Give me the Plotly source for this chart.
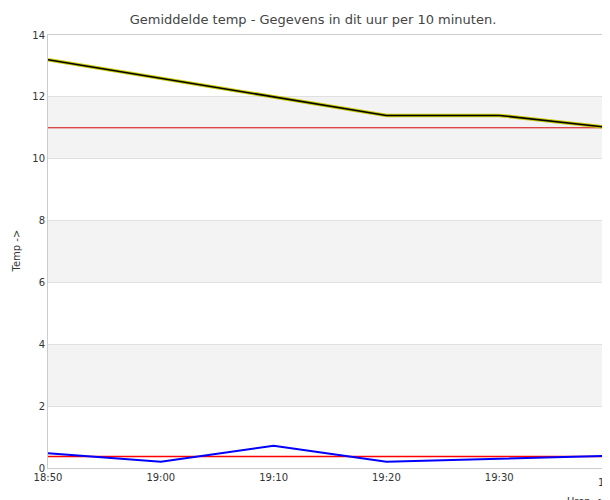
import plotly.graph_objects as go

labels = ["18:50", "19:00", "19:10", "19:20", "19:30", "19:40"]
temp = [13.2, 12.6, 12.0, 11.4, 11.4, 11.0]
blue = [0.48, 0.2, 0.72, 0.2, 0.3, 0.4]
red = [0.37] * 6
ref = [11.0] * 6
x = list(range(len(labels)))

fig = go.Figure()
for y0 in [2, 6, 10]:
    fig.add_hrect(y0=y0, y1=y0 + 2, fillcolor="#f3f3f3", line_width=0, layer="below")
fig.add_trace(go.Scatter(x=x, y=ref, mode="lines", line=dict(color="#d00000", width=1)))
fig.add_trace(go.Scatter(x=x, y=red, mode="lines", line=dict(color="red", width=1.5)))
fig.add_trace(go.Scatter(x=x, y=blue, mode="lines", line=dict(color="blue", width=2)))
fig.add_trace(go.Scatter(x=x, y=temp, mode="lines", line=dict(color="#c8c800", width=3.5)))
fig.add_trace(go.Scatter(x=x, y=temp, mode="lines", line=dict(color="black", width=1.5)))

fig.update_layout(
    width=610, height=500, showlegend=False,
    plot_bgcolor="white", paper_bgcolor="white",
    margin=dict(l=40, r=6, t=27, b=40, autoexpand=False),
    font=dict(family="DejaVu Sans", size=10, color="#333"),
    title=dict(text="Gemiddelde temp - Gegevens in dit uur per 10 minuten.", x=0.5, y=0.978,
               xanchor="center", yanchor="middle", font=dict(size=13, color="#444")),
    xaxis=dict(range=[0, 5], tickvals=x[:-1], ticktext=labels[:-1], showgrid=False, zeroline=False,
               showline=True, linecolor="#ccc", mirror=True, ticks="", automargin=False),
    yaxis=dict(range=[0, 14], dtick=2, gridcolor="#e0e0e0", zeroline=False,
               showline=True, linecolor="#ccc", mirror=True, automargin=False, ticks=""),
)
fig.add_annotation(text=labels[-1], xref="x", yref="paper", x=x[-1], y=0, yshift=-14,
                   xanchor="center", yanchor="middle", showarrow=False, font=dict(size=10))
fig.add_annotation(text="Temp ->", xref="paper", yref="paper", x=0, xshift=-32, y=0.5,
                   textangle=-90, xanchor="center", yanchor="middle", showarrow=False, font=dict(size=10))
fig.add_annotation(text="Uren ->", xref="paper", yref="paper", x=1, xshift=-4, y=0, yshift=-33,
                   xanchor="right", yanchor="middle", showarrow=False, font=dict(size=10))
fig.write_html("out.html")
